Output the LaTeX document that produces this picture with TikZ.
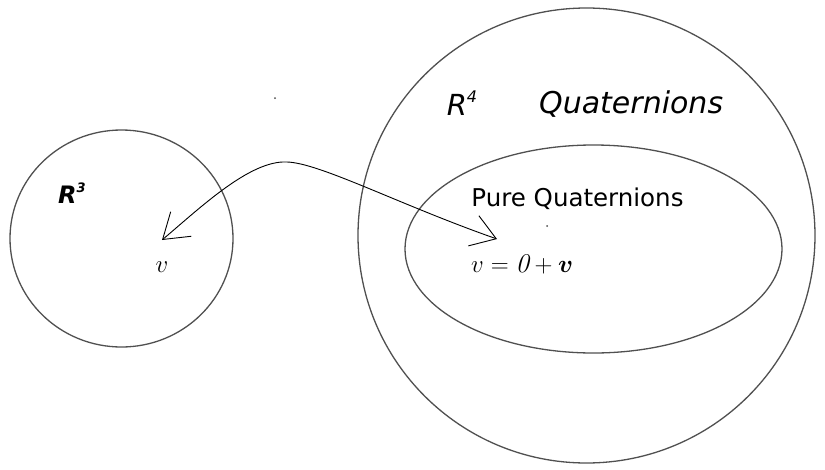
\documentclass[tikz,border=0pt]{standalone}
\usepackage{fontspec}
\usepackage{amsmath,amssymb,bm}
\usetikzlibrary{arrows.meta,shapes.geometric}
\newfontfamily\dvsans{DejaVu Sans}
\definecolor{ringgray}{HTML}{505050}
\tikzset{
  ring/.style={draw=ringgray, line width=1.3pt, ellipse, inner sep=0pt},
  lab/.style={inner sep=0pt, text=black},
  conn/.style={draw=black, line width=0.9pt},
  barbtip/.tip={Straight Barb[length=24pt, width=32pt, line width=0.9pt]},
}
\begin{document}
\begin{tikzpicture}[x=1pt,y=-1pt]
\useasboundingbox (0,0) rectangle (825,469);
\fill[white] (0,0) rectangle (825,469);
% regions
\node[ring, minimum width=223pt, minimum height=217pt] (r3) at (121.5,238.5) {};
\node[ring, minimum width=457pt, minimum height=455pt] (r4) at (586.5,235.5) {};
\node[ring, minimum width=377pt, minimum height=208pt] (pure) at (593.5,249) {};
% labels
\node[lab, anchor=base] (r3lab) at (72,203) {\dvsans\bfseries\itshape\fontsize{24}{28}\selectfont R\raisebox{11pt}{\fontsize{13}{15}\selectfont 3}};
\node[lab, anchor=base] (r4lab) at (462,115) {\dvsans\itshape\fontsize{29}{33}\selectfont R\raisebox{13pt}{\fontsize{16}{18}\selectfont 4}};
\node[lab, anchor=base west] (qlab) at (539,113) {\dvsans\itshape\fontsize{30}{34}\selectfont Quaternions};
\node[lab, anchor=base] (plab) at (577.5,206) {\dvsans\fontsize{24.5}{28}\selectfont Pure Quaternions};
\node[lab, anchor=base] (vl) at (162,272) {\fontsize{27}{31}\selectfont $v$};
\node[lab, anchor=base west] (vq) at (471,272) {\fontsize{27}{31}\selectfont $v = \mathit{0} + \bm{v}$};
% specks
\fill[black!70] (275,98) circle (1pt);
\fill[black!70] (547,226) circle (1pt);
% connector
\coordinate (tipL) at (162,240);
\coordinate (tipR) at (497,239);
\coordinate (peak) at (287,162);
\draw[conn, barbtip-barbtip] (tipL) .. controls (200,208) and (250,160) .. (peak)
  .. controls (320,163) and (400,205) .. (tipR);
\end{tikzpicture}
\end{document}
